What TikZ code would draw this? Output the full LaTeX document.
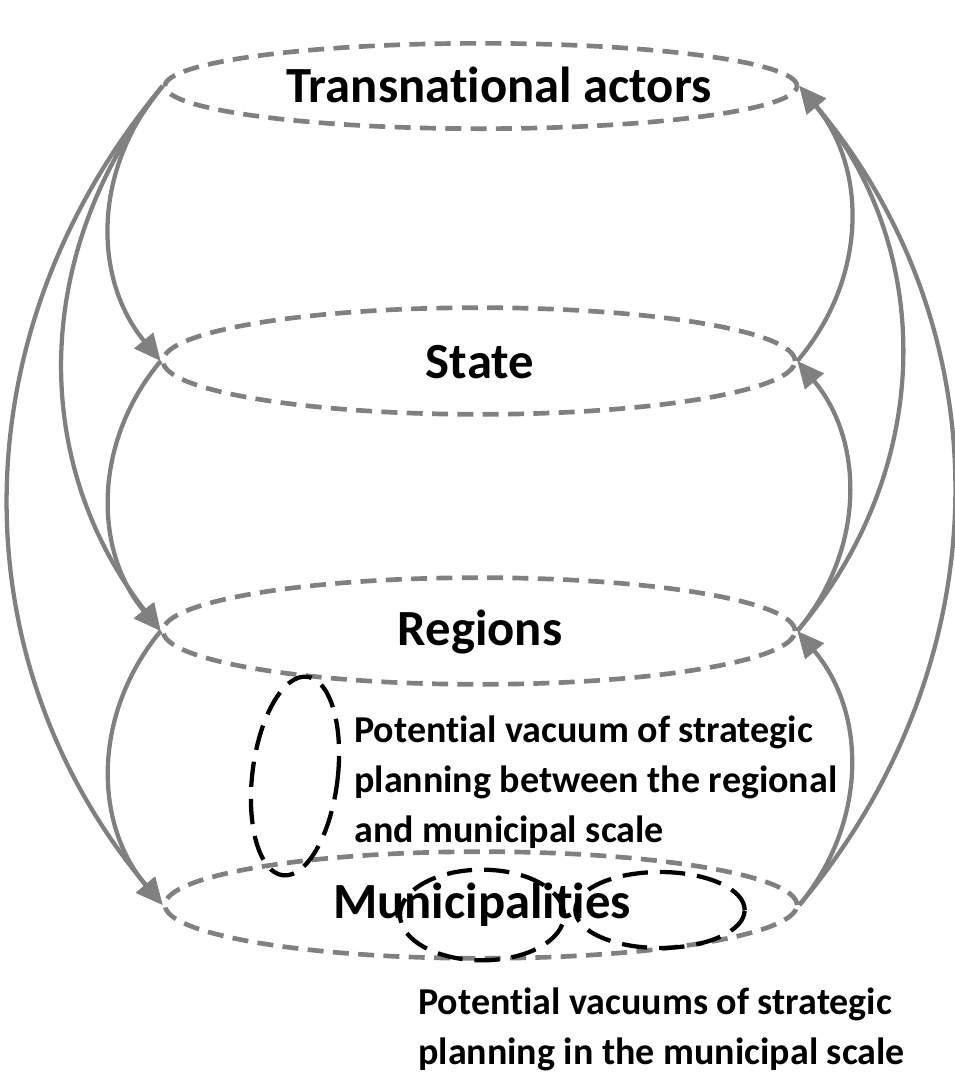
\documentclass[tikz,border=0pt]{standalone}
\usepackage{fontspec}
\setmainfont{Carlito}[Ligatures=NoCommon]
\usetikzlibrary{shapes.geometric, arrows.meta}

\begin{document}
\begin{tikzpicture}[x=0.75pt, y=0.75pt,
        % styles
        level/.style = {
                ellipse, draw=gray, line width=3.5pt,
                dash pattern=on 12pt off 7pt,
                minimum width=474pt, minimum height=80pt, inner sep=0pt
            },
        title/.style = {
                inner sep=0pt, font=\fontsize{38}{45}\selectfont\bfseries
            },
        vacuum/.style = {
                ellipse, draw=black, line width=3.2pt,
                dash pattern=on 19pt off 9pt, inner sep=0pt
            },
        note/.style = {
                align=left, inner sep=0pt,
                font=\fontsize{28.5}{37.5}\selectfont\bfseries
            },
        arrow/.style = {
                draw=gray, line width=3.2pt,
                -{Triangle[length=20pt, width=18pt]}
            }]

    \useasboundingbox (0,0) rectangle (954,-1075);

    \node (trans) [level, minimum height=64pt] at (481,-86) {};
    \node (state) [level] at (479,-361) {};
    \node (regions) [level] at (479,-631) {};
    \node (munic) [level] at (481,-905) {};

    \node (trans_title) [title] at (499,-85) {Transnational actors};
    \node (state_title) [title] at (480,-362) {State};
    \node (regions_title) [title] at (480,-632) {Regions};
    \node (munic_title) [title] at (482,-905) {Municipalities};

    % vacuums
    \node (gap) [vacuum, minimum width=64pt, minimum height=150pt, rotate=-7] at (295,-776) {};
    \node (hole_a) [vacuum, minimum width=123pt, minimum height=68pt] at (482,-915) {};
    \node (hole_b) [vacuum, minimum width=127pt, minimum height=57pt] at (660,-910) {};

    \node (gap_note) [note, anchor=north west] at (354,-716) {Potential vacuum of strategic\\planning between the regional\\and municipal scale};
    \node (hole_note) [note, anchor=north west] at (418,-988) {Potential vacuums of strategic\\planning in the municipal scale};

    % % arrows
    \draw [arrow] (trans.west) to[bend right=40] (state.west);
    \draw [arrow] (trans.west) to[bend right=38] (regions.west);
    \draw [arrow] (trans.west) to[bend right=40] (munic.west);
    \draw [arrow] (state.west) to[bend right=40] (regions.west);
    \draw [arrow] (regions.west) to[bend right=40] (munic.west);
    \draw [arrow] (munic.east) to[bend right=40] (regions.east);
    \draw [arrow] (munic.east) to[bend right=40] (trans.east);
    \draw [arrow] (regions.east) to[bend right=40] (state.east);
    \draw [arrow] (regions.east) to[bend right=40] (trans.east);
    \draw [arrow] (state.east) to[bend right=40] (trans.east);
\end{tikzpicture}
\end{document}
